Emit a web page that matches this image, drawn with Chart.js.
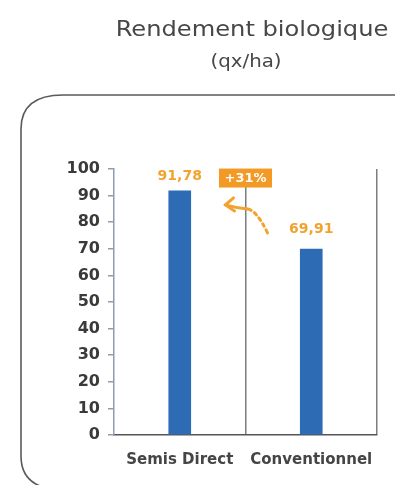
<!DOCTYPE html>
<html>
<head>
<meta charset="utf-8">
<script src="https://cdn.jsdelivr.net/npm/chart.js@4.4.1/dist/chart.umd.min.js"></script>
<style>
  html, body { margin: 0; padding: 0; background: #ffffff; }
  #wrap { position: relative; width: 395px; height: 485px; }
</style>
</head>
<body>
<div id="wrap"><canvas id="c" width="395" height="485"></canvas></div>
<script>
const titleLines = ['Rendement biologique', '(qx/ha)'];
const categories = ['Semis Direct', 'Conventionnel'];
const values = [91.78, 69.91];
const valueLabels = ['91,78', '69,91'];
const yMin = 0, yMax = 100, yStep = 10;
const gainLabel = '+31%';

const ORANGE = '#f2a22e';
const BLUE = '#2d6bb4';

const decor = {
  id: 'decor',
  beforeDraw(chart) {
    const ctx = chart.ctx;
    ctx.save();
    // rounded frame
    ctx.strokeStyle = '#5a5a5a';
    ctx.lineWidth = 1.6;
    const x0 = 21, y0 = 95, r = 34, yb = 490, rb = 34;
    ctx.beginPath();
    ctx.moveTo(x0 + rb + 10, yb);
    ctx.quadraticCurveTo(x0, yb, x0, yb - rb);
    ctx.lineTo(x0, y0 + r);
    ctx.quadraticCurveTo(x0, y0, x0 + r + 8, y0);
    ctx.lineTo(400, y0);
    ctx.stroke();
    // title
    ctx.fillStyle = '#474747';
    ctx.textAlign = 'center';
    ctx.textBaseline = 'middle';
    ctx.save();
    ctx.translate(252, 31);
    ctx.scale(1.15, 1);
    ctx.font = '500 21px "DejaVu Sans"';
    ctx.fillText(titleLines[0], 0, 0);
    ctx.restore();
    ctx.save();
    ctx.translate(246, 62);
    ctx.scale(1.1, 1);
    ctx.font = '18px "DejaVu Sans"';
    ctx.fillText(titleLines[1], 0, 0);
    ctx.restore();
    ctx.restore();
  },
  afterDatasetsDraw(chart) {
    const ctx = chart.ctx;
    const meta = chart.getDatasetMeta(0);
    const xs = chart.scales.x, ys = chart.scales.y;
    ctx.save();
    ctx.font = 'bold 14px "DejaVu Sans"';
    ctx.fillStyle = ORANGE;
    ctx.textAlign = 'center';
    ctx.textBaseline = 'bottom';
    meta.data.forEach((bar, i) => {
      ctx.fillText(valueLabels[i], bar.x, bar.y - (i === 0 ? 8 : 13));
    });
    // gain badge at category boundary
    const mid = (xs.getPixelForValue(0) + xs.getPixelForValue(1)) / 2;
    const by = ys.getPixelForValue(96.6);
    ctx.font = 'bold 13px "DejaVu Sans"';
    const w = 53, h = 19;
    ctx.fillStyle = '#f39a26';
    ctx.fillRect(mid - w / 2, by - h / 2, w, h);
    ctx.fillStyle = '#ffffff';
    ctx.textBaseline = 'middle';
    ctx.fillText(gainLabel, mid, by + 1);
    // curved arrow
    const sx = mid + 22, sy = ys.getPixelForValue(76);
    const ex = mid - 20, ey = ys.getPixelForValue(86.5);
    ctx.strokeStyle = ORANGE;
    ctx.lineWidth = 3;
    ctx.lineCap = 'round';
    ctx.setLineDash([3, 4]);
    ctx.beginPath();
    ctx.moveTo(sx, sy);
    ctx.quadraticCurveTo(mid + 10, ey + 3, mid, ey + 4);
    ctx.stroke();
    ctx.setLineDash([]);
    ctx.beginPath();
    ctx.moveTo(mid + 2, ey + 4);
    ctx.quadraticCurveTo(mid - 10, ey + 3, ex, ey);
    ctx.stroke();
    // arrowhead
    ctx.beginPath();
    ctx.moveTo(ex + 8, ey - 7);
    ctx.lineTo(ex, ey);
    ctx.lineTo(ex + 9, ey + 6);
    ctx.stroke();
    ctx.restore();
  }
};

new Chart(document.getElementById('c'), {
  type: 'bar',
  data: {
    labels: categories,
    datasets: [{
      data: values,
      backgroundColor: BLUE,
      borderWidth: 0,
      barThickness: 22
    }]
  },
  options: {
    responsive: false,
    animation: false,
    devicePixelRatio: 1,
    layout: { padding: { top: 169, right: 18, bottom: 0, left: 0 } },
    plugins: {
      legend: { display: false },
      tooltip: { enabled: false },
      title: { display: false }
    },
    scales: {
      x: {
        offset: true,
        grid: {
          offset: true,
          drawOnChartArea: true,
          drawTicks: false,
          lineWidth: 1.5,
          color: (c) => (c.index === 0 ? 'rgba(0,0,0,0)' : '#7d7d7d')
        },
        border: { display: true, color: '#555555', width: 1.5 },
        ticks: {
          padding: 16,
          color: '#454545',
          font: { family: 'DejaVu Sans', size: 15, weight: 'bold' }
        },
        afterFit: (s) => { s.height = 50; }
      },
      y: {
        min: yMin,
        max: yMax,
        ticks: {
          stepSize: yStep,
          padding: 8,
          color: '#3a3a3a',
          font: { family: 'DejaVu Sans', size: 16, weight: 'bold' }
        },
        grid: {
          drawOnChartArea: false,
          drawTicks: true,
          tickLength: 6,
          tickColor: '#8d9db2',
          lineWidth: 1.5
        },
        border: { display: true, color: '#8d9db2', width: 1.5 },
        afterFit: (s) => { s.width = 114; }
      }
    }
  },
  plugins: [decor]
});
</script>
</body>
</html>
